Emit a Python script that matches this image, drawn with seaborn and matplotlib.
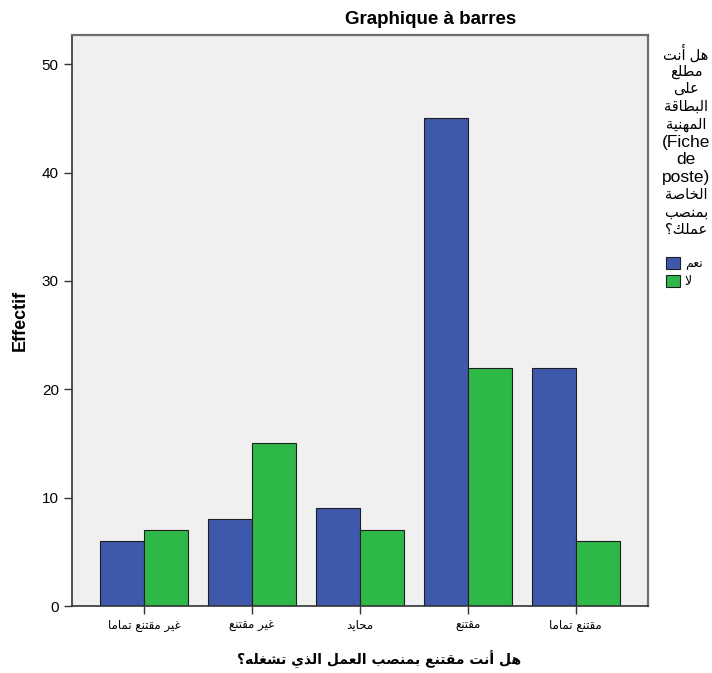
import numpy as np
import pandas as pd
import matplotlib
matplotlib.use("Agg")
import matplotlib.pyplot as plt
from matplotlib.patches import Patch
import seaborn as sns

# ---- data ----
categories = ["غير مقتنع تماما", "غير مقتنع", "محايد", "مقتنع", "مقتنع تماما"]
answers = ["نعم", "لا"]
yes_counts = [6, 8, 9, 45, 22]
no_counts = [7, 15, 7, 22, 6]
y_ticks = [0, 10, 20, 30, 40, 50]

title_text = "Graphique à barres"
y_label = "Effectif"
x_label = "هل أنت مقتنع بمنصب العمل الذي تشغله؟"
legend_title_lines = ["هل أنت", "مطلع", "على", "البطاقة", "المهنية",
                      "(Fiche", "de", "poste)", "الخاصة", "بمنصب", "عملك؟"]

BLUE = "#3E58AC"
GREEN = "#2EB848"

# ---- minimal Arabic shaping (matplotlib has no bidi / joining support) ----
FOUR = {'ئ': 0xFE89, 'ب': 0xFE8F, 'ت': 0xFE95, 'ث': 0xFE99, 'ج': 0xFE9D,
        'ح': 0xFEA1, 'خ': 0xFEA5, 'س': 0xFEB1, 'ش': 0xFEB5, 'ص': 0xFEB9,
        'ض': 0xFEBD, 'ط': 0xFEC1, 'ظ': 0xFEC5, 'ع': 0xFEC9, 'غ': 0xFECD,
        'ف': 0xFED1, 'ق': 0xFED5, 'ك': 0xFED9, 'ل': 0xFEDD, 'م': 0xFEE1,
        'ن': 0xFEE5, 'ه': 0xFEE9, 'ي': 0xFEF1}
TWO = {'آ': 0xFE81, 'أ': 0xFE83, 'ؤ': 0xFE85, 'إ': 0xFE87, 'ا': 0xFE8D,
       'ة': 0xFE93, 'د': 0xFEA9, 'ذ': 0xFEAB, 'ر': 0xFEAD, 'ز': 0xFEAF,
       'و': 0xFEED, 'ى': 0xFEEF}
LAM_ALEF = {'آ': 0xFEF5, 'أ': 0xFEF7, 'إ': 0xFEF9, 'ا': 0xFEFB}


def _jtype(tok):
    if tok is None:
        return None
    if isinstance(tok, tuple):
        return 'R'
    if tok in FOUR:
        return 'D'
    if tok in TWO:
        return 'R'
    return None


def is_arabic(text):
    return any(c in FOUR or c in TWO for c in text)


def shape(text):
    if not is_arabic(text):
        return text
    toks = []
    i = 0
    while i < len(text):
        c = text[i]
        if c == 'ل' and i + 1 < len(text) and text[i + 1] in LAM_ALEF:
            toks.append(('LA', LAM_ALEF[text[i + 1]]))
            i += 2
        else:
            toks.append(c)
            i += 1
    out = []
    for k, t in enumerate(toks):
        prev = toks[k - 1] if k > 0 else None
        nxt = toks[k + 1] if k + 1 < len(toks) else None
        jt = _jtype(t)
        if jt is None:
            out.append(t)
            continue
        jp = _jtype(prev) == 'D'
        jn = jt == 'D' and _jtype(nxt) is not None
        if isinstance(t, tuple):
            out.append(chr(t[1] + (1 if jp else 0)))
        elif jt == 'D':
            off = 3 if (jp and jn) else 1 if jp else 2 if jn else 0
            out.append(chr(FOUR[t] + off))
        else:
            out.append(chr(TWO[t] + (1 if jp else 0)))
    return ''.join(reversed(out))


# ---- style ----
sns.set_style("ticks")
plt.rcParams['font.family'] = ['Liberation Sans', 'DejaVu Sans']
plt.rcParams['text.color'] = 'black'
plt.rcParams['axes.labelcolor'] = 'black'

df = pd.DataFrame({
    "categorie": categories * 2,
    "reponse": [answers[0]] * len(categories) + [answers[1]] * len(categories),
    "effectif": yes_counts + no_counts,
})

W, H = 712, 673
fig = plt.figure(figsize=(W / 100, H / 100), dpi=100)
ax = fig.add_axes([72 / W, 1 - 606 / H, 576 / W, 571 / H])
ax.set_facecolor("#F0F0F0")

sns.barplot(data=df, x="categorie", y="effectif", hue="reponse",
            order=categories, hue_order=answers, palette=[BLUE, GREEN],
            width=0.815, edgecolor="#1e1e1e", linewidth=0.8, saturation=1,
            ax=ax)
if ax.get_legend() is not None:
    ax.get_legend().remove()

ax.set_xlim(-0.67, 4.67)
ax.set_ylim(0, 52.7)
ax.set_yticks(y_ticks)
ax.set_yticklabels([str(v) for v in y_ticks], fontsize=11)
ax.set_xticks(range(len(categories)))
ax.set_xticklabels([shape(c) for c in categories], fontsize=8.5,
                   family='DejaVu Sans')
ax.tick_params(axis='both', direction='out', length=6, width=1,
               color="#333333", labelcolor="black")

for side in ("left", "bottom"):
    ax.spines[side].set_color("#333333")
    ax.spines[side].set_linewidth(1.2)
for side in ("top", "right"):
    ax.spines[side].set_visible(True)
    ax.spines[side].set_color("#6e6e6e")
    ax.spines[side].set_linewidth(1.6)

ax.set_ylabel(y_label, fontsize=13, fontweight='bold')
ax.yaxis.set_label_coords(-(72 - 29) / 576, 0.5)
ax.set_xlabel(shape(x_label), fontsize=10, fontweight='bold',
              family='DejaVu Sans')
ax.xaxis.set_label_coords((379 - 72) / 576, -(651 - 606) / 571)

fig.text(431 / W, 1 - 19 / H, title_text, ha='center', va='center',
         fontsize=13.5, fontweight='bold')

# legend title, one centred line at a time
for i, line in enumerate(legend_title_lines):
    fig.text(686 / W, 1 - (54 + i * 17.6) / H, shape(line),
             ha='center', va='center',
             fontsize=10.5 if is_arabic(line) else 12.5)

handles = [Patch(facecolor=BLUE, edgecolor="#1e1e1e", linewidth=0.8),
           Patch(facecolor=GREEN, edgecolor="#1e1e1e", linewidth=0.8)]
fig.legend(handles, [shape(a) for a in answers], loc='upper left',
           bbox_to_anchor=(666 / W, 1 - 257 / H), frameon=False,
           handlelength=1.1, handleheight=1.1, handletextpad=0.4,
           labelspacing=0.35, fontsize=9, borderaxespad=0, borderpad=0)

fig.savefig("out.png", dpi=100)
